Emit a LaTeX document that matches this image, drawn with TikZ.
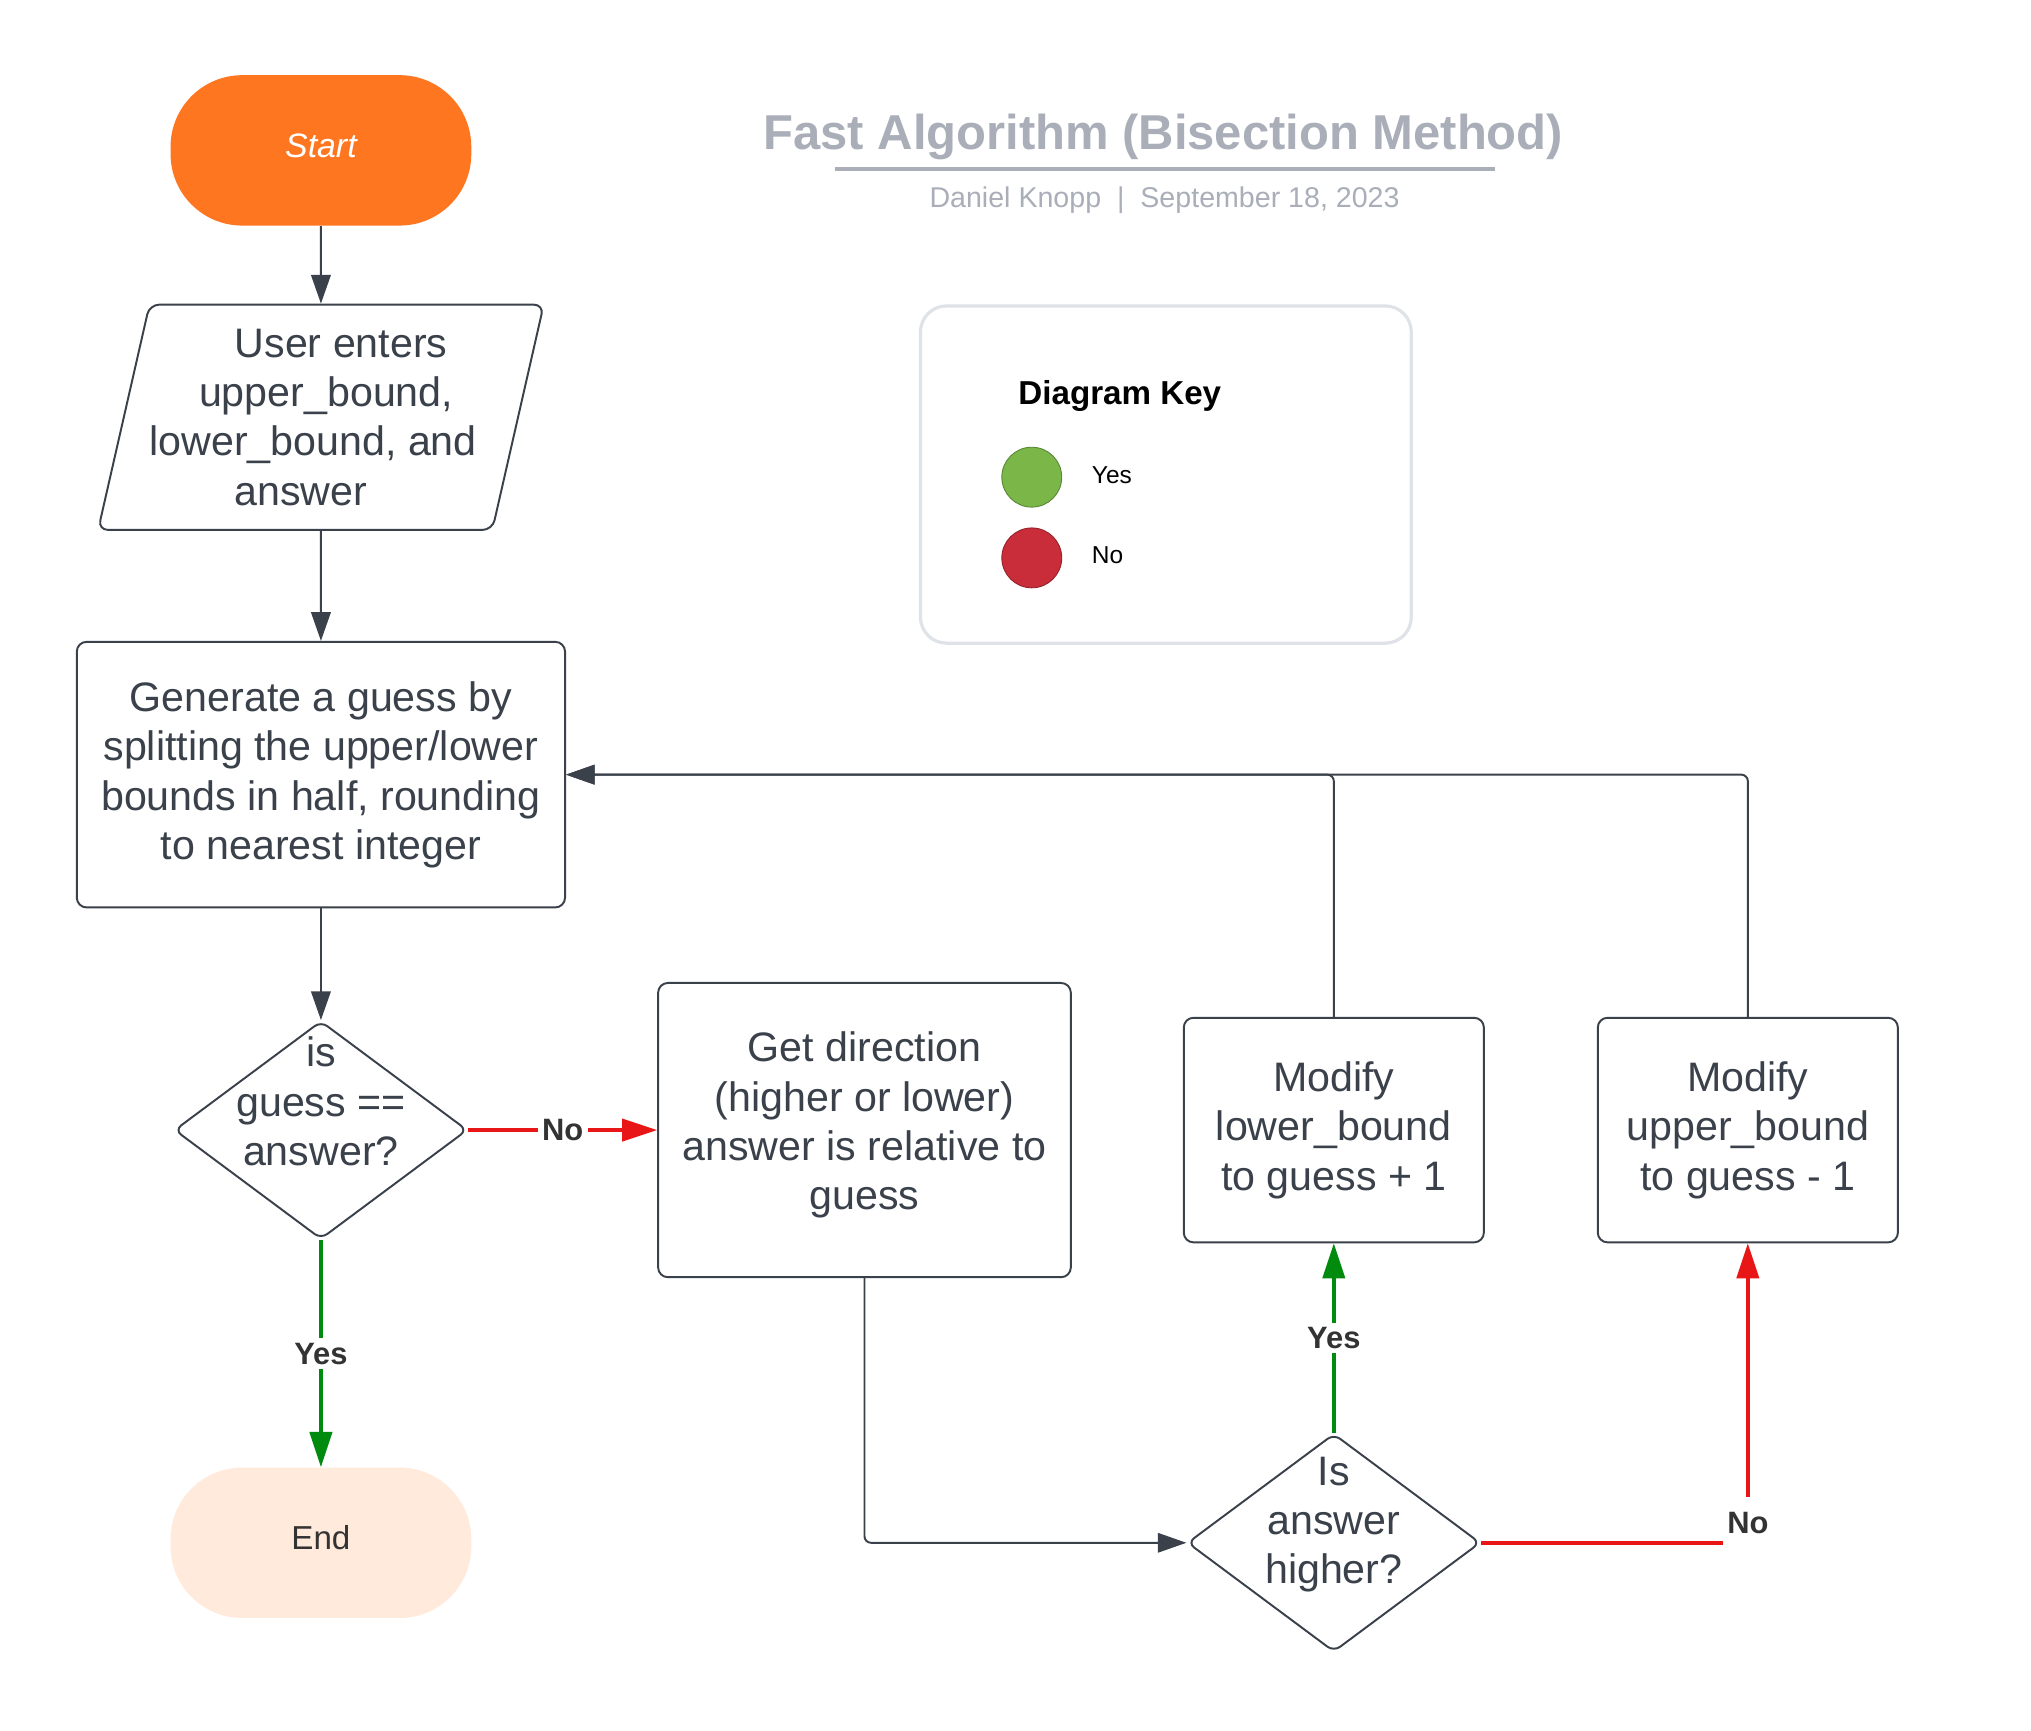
\documentclass[tikz,border=0pt]{standalone}
\usepackage{fontspec}
\setmainfont{Liberation Sans}
\usepackage{tikz}
\usetikzlibrary{arrows.meta, shapes, positioning}
\definecolor{ink}{HTML}{3A414A}
\definecolor{labink}{HTML}{333333}
\definecolor{startorange}{HTML}{FF7620}
\definecolor{endpeach}{HTML}{FFEADC}
\definecolor{yesgreen}{HTML}{008A0E}
\definecolor{nored}{HTML}{E81616}
\definecolor{titlegray}{HTML}{A9AEB8}
\definecolor{keyborder}{HTML}{DFE3E8}
\definecolor{keygreen}{HTML}{7AB648}
\definecolor{keyred}{HTML}{C92D39}
\newcommand{\boxfont}{\fontsize{18}{21.6}\selectfont}

\begin{document}
\begin{tikzpicture}
	\fill[white] (0,0) rectangle (31.2,-26.59);
	\useasboundingbox (0,0) rectangle (31.2,-26.59);

	\tikzstyle{terminal}=[rectangle, rounded corners=1.1cm, minimum width=4.62cm, minimum height=2.31cm, text depth=4.5pt]
	\tikzstyle{process}=[rectangle, rounded corners=0.15cm, draw=ink, line width=0.85pt, text=ink, align=center, font=\boxfont]
	\tikzstyle{io}=[trapezium, trapezium left angle=75.7, trapezium right angle=104.3, trapezium stretches=true, minimum width=6.86cm, minimum height=3.46cm, rounded corners=0.15cm, draw=ink, line width=0.85pt, text=ink, align=center, font=\boxfont, node distance=4.1cm]
	\tikzstyle{decision}=[diamond, minimum width=4.5cm, minimum height=3.35cm, inner sep=0pt, rounded corners=0.12cm, draw=ink, line width=0.85pt]
	\tikzstyle{qtext}=[text=ink, align=center, font=\boxfont]
	\tikzstyle{connect}=[-{Triangle[length=4.4mm, width=3mm]}, draw=ink, line width=0.85pt]
	\tikzstyle{yesconnect}=[-{Triangle[length=5.4mm, width=3.4mm]}, draw=yesgreen, line width=1.7pt]
	\tikzstyle{noconnect}=[-{Triangle[length=5.4mm, width=3.4mm]}, draw=nored, line width=1.7pt]
	\tikzstyle{branchlab}=[fill=white, text=labink, inner sep=2pt, font=\fontsize{13.5}{16}\selectfont\bfseries]
	\tikzstyle{keylab}=[anchor=base west, font=\fontsize{10.7}{13}\selectfont]
	\tikzstyle{keydot}=[circle, minimum size=0.92cm, line width=0.4pt]

	\node[terminal, fill=startorange, text=white, font=\fontsize{14.8}{18}\selectfont\itshape] (start) at (4.93,-2.31) {Start};
	\node[io] (input) [below of=start] {\hspace*{0.62cm}User enters\\\hspace*{0.16cm}upper\_bound,\\\hspace*{-0.24cm}lower\_bound, and\\\hspace*{-0.62cm}answer};
	\node[process, minimum width=7.5cm, minimum height=4.08cm, node distance=5.49cm] (generate) [below of=input] {Generate a guess by\\splitting the upper/lower\\bounds in half, rounding\\to nearest integer};
	\node[decision, node distance=5.46cm, label={[qtext, yshift=0.44cm]center:{is\\guess ==\\answer?}}] (check) [below of=generate] {};
	\node[terminal, fill=endpeach, text=labink, font=\fontsize{14.5}{18}\selectfont, node distance=6.34cm] (end) [below of=check] {End};
	\node[process, minimum width=6.34cm, minimum height=4.52cm, node distance=8.35cm] (direction) [right of=check] {Get direction\\(higher or lower)\\answer is relative to\\guess\rule[-8pt]{0pt}{1pt}};
	\node[process, minimum width=4.61cm, minimum height=3.45cm, node distance=7.21cm] (raiselow) [right of=direction] {Modify\\lower\_bound\\to guess + 1};
	\node[process, minimum width=4.61cm, minimum height=3.45cm, node distance=6.36cm] (dropup) [right of=raiselow] {Modify\\upper\_bound\\to guess - 1};
	\node[decision, node distance=6.34cm, label={[qtext, yshift=0.28cm]center:{Is\\answer\\higher?}}] (higher) [below of=raiselow] {};

	\path (start) edge [connect] (input)
	(input) edge [connect] (generate)
	(generate) edge [connect] (check)
	(check) edge [noconnect] node[branchlab] {No} (direction)
	(check) edge [yesconnect] node[branchlab] {Yes} (end)
	(higher) edge [yesconnect] node[branchlab] {Yes} (raiselow);
	\draw[connect, rounded corners=0.1cm] (direction.south) |- (higher.west);
	\draw[noconnect] (higher.east) -| node[branchlab, yshift=0.3cm, minimum height=0.8cm] {No} (dropup.south);
	\draw[connect, rounded corners=0.1cm] (raiselow.north) |- (generate.east);
	\draw[connect, rounded corners=0.1cm] (dropup.north) |- (generate.east);

	% title block
	\node[anchor=base, text=titlegray, font=\fontsize{21.4}{25}\selectfont\bfseries] (title) at (17.87,-2.30) {Fast Algorithm (Bisection Method)};
	\draw[titlegray, line width=1.7pt] (12.82,-2.60) -- (22.96,-2.60);
	\node[anchor=base, text=titlegray, font=\fontsize{12.5}{15}\selectfont] (byline) at (17.89,-3.18) {Daniel Knopp~~|~~September 18, 2023};

	% key
	\node[rectangle, rounded corners=0.4cm, draw=keyborder, line width=1.4pt, minimum width=7.54cm, minimum height=5.18cm] (keybox) at (17.91,-7.29) {};
	\node[anchor=base west, font=\fontsize{14.5}{17}\selectfont\bfseries] (keytitle) at (15.52,-6.22) {Diagram Key};
	\node[keydot, fill=keygreen, draw=keygreen!75!black] (keyyes) at (15.85,-7.33) {};
	\node[keydot, fill=keyred, draw=keyred!75!black] (keyno) at (15.85,-8.57) {};
	\node[keylab] (keyyeslab) at (16.65,-7.42) {Yes};
	\node[keylab] (keynolab) at (16.65,-8.66) {No};
\end{tikzpicture}
\end{document}
